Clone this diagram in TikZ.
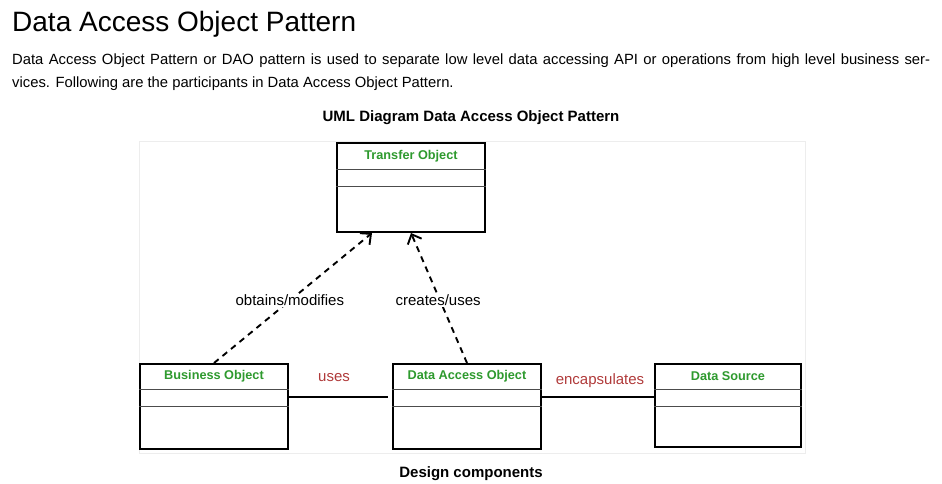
\documentclass[tikz,border=0pt]{standalone}
\usepackage{fontspec}
\setmainfont{Liberation Sans}
\usetikzlibrary{arrows.meta}
\definecolor{umlgreen}{HTML}{2E9A2E}
\definecolor{labred}{HTML}{B03A3A}
\tikzset{
  umlbox/.style={draw=black, line width=2pt, fill=white, inner sep=0pt},
  hdr/.style={text=umlgreen, font=\fontsize{12.7}{14}\selectfont\bfseries, inner sep=0pt},
  sep/.style={draw=black!70, line width=0.8pt},
  assoc/.style={draw=black, line width=1.8pt},
  dep/.style={draw=black, line width=1.9pt, dash pattern=on 6pt off 5pt, -{Straight Barb[length=8pt,width=15pt,line width=1.9pt]}},
  elab/.style={font=\fontsize{15}{17}\selectfont, fill=white, inner sep=1pt},
  rlab/.style={text=labred, font=\fontsize{15}{17}\selectfont, inner sep=0pt},
}
\begin{document}
\begin{tikzpicture}[x=1pt,y=-1pt]
\useasboundingbox (0,0) rectangle (942,484);
% heading and text
\node[anchor=base west, inner sep=0pt, font=\fontsize{28}{32}\selectfont] (title) at (12,32) {Data Access Object Pattern};
\node[anchor=base west, inner sep=0pt, font=\fontsize{14.8}{16}\selectfont] (p1) at (12,65) {\makebox[918pt][s]{Data Access Object Pattern or DAO pattern is used to separate low level data accessing API or operations from high level business ser-}};
\node[anchor=base west, inner sep=0pt, font=\fontsize{14.8}{16}\selectfont] (p2) at (12,88) {vices. Following are the participants in Data Access Object Pattern.};
\node[inner sep=0pt, font=\fontsize{15}{17}\selectfont\bfseries] (cap) at (471,118) {UML Diagram Data Access Object Pattern};
% diagram frame
\draw[black!7, line width=0.8pt] (139,141) rectangle (805,453);
% class boxes
\node[umlbox, minimum width=148pt, minimum height=89pt] (to) at (411,187.5) {};
\node[umlbox, minimum width=148pt, minimum height=85pt] (bo) at (214,406.5) {};
\node[umlbox, minimum width=148pt, minimum height=85pt] (dao) at (467,406.5) {};
\node[umlbox, minimum width=146pt, minimum height=83pt] (ds) at (728,405.5) {};
\node[hdr] (tol) at ([yshift=-14]to.north) {Transfer Object};
\node[hdr] (bol) at ([yshift=-13.5]bo.north) {Business Object};
\node[hdr] (daol) at ([yshift=-13.5]dao.north) {Data Access Object};
\node[hdr] (dsl) at ([yshift=-13.5]ds.north) {Data Source};
\foreach \n/\a/\b in {to/27/44, bo/26/43, dao/26/43, ds/26.5/43.5}{
  \draw[sep] ([yshift=-\a]\n.north west) -- ([yshift=-\a]\n.north east);
  \draw[sep] ([yshift=-\b]\n.north west) -- ([yshift=-\b]\n.north east);
}
% associations
\draw[assoc, shorten >=4pt] ([yshift=-34]bo.north east) -- ([yshift=-34]dao.north west);
\draw[assoc] ([yshift=-34]dao.north east) -- ([yshift=-34]ds.north west);
\node[rlab] (usesl) at (334,378) {uses};
\node[rlab] (encl) at (600,380.5) {encapsulates};
% dependencies
\draw[dep] (bo.north) -- node[elab, pos=0.48] (oml) {obtains/modifies} ([xshift=-39]to.south);
\draw[dep] (dao.north) -- node[elab, pos=0.48, xshift=-2] (cul) {creates/uses} (to.south);
% caption
\node[inner sep=0pt, font=\fontsize{15}{17}\selectfont\bfseries] (cap2) at (471,474) {Design components};
\end{tikzpicture}
\end{document}
